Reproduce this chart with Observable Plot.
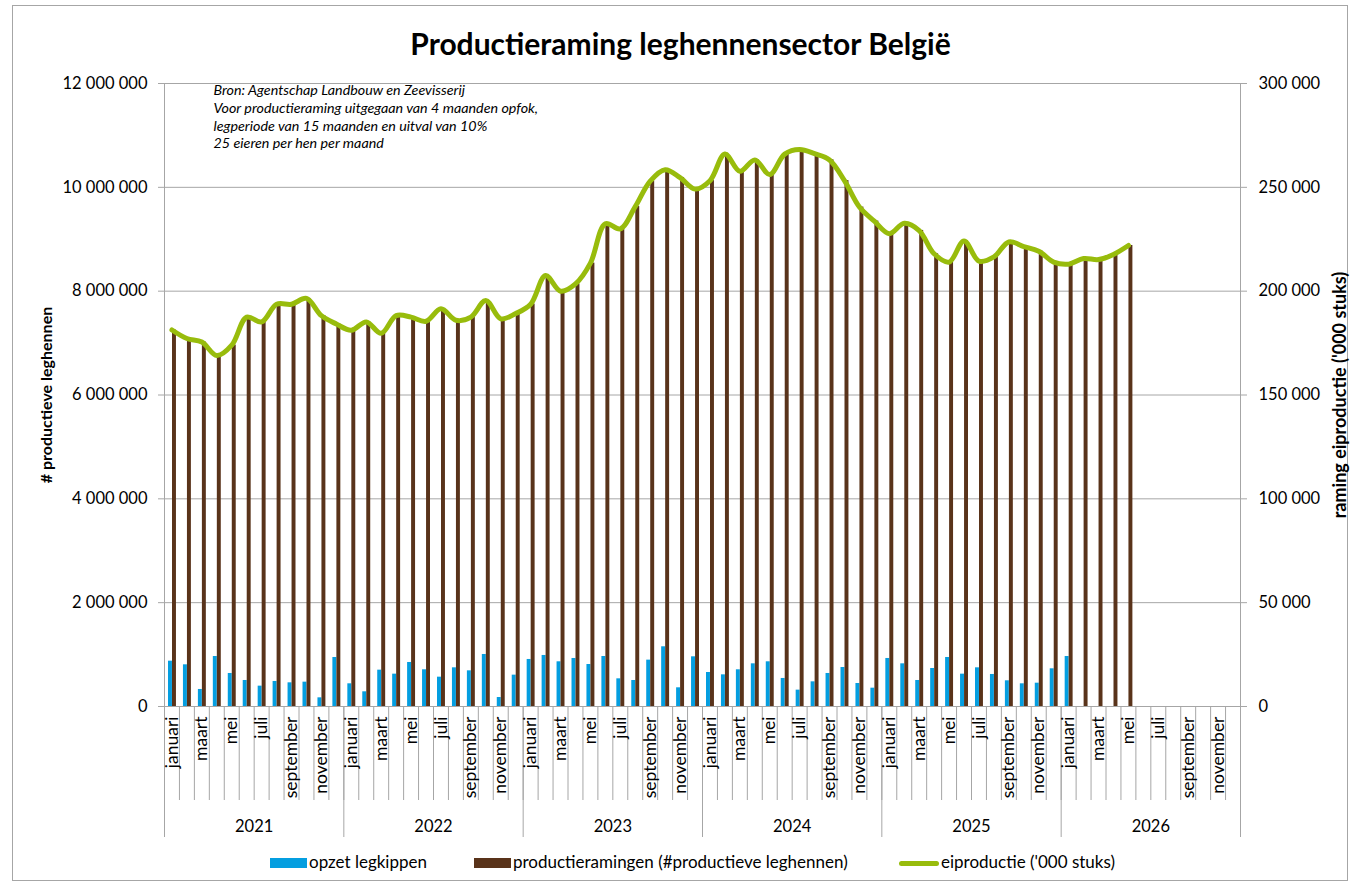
<!DOCTYPE html>
<html>
<head>
<meta charset="utf-8">
<script src="https://cdn.jsdelivr.net/npm/d3@7"></script>
<script src="https://cdn.jsdelivr.net/npm/@observablehq/plot@0.6"></script>
<style>
  body { margin: 0; background: #fff; font-family: Lato, "Open Sans", sans-serif; }
  #wrap { position: relative; width: 1357px; height: 887px; overflow: hidden; background: #fff; }
  #border { position: absolute; left: 12px; top: 5px; width: 1336px; height: 876px; border: 1px solid #a6a6a6; box-sizing: border-box; }
  #chart { position: absolute; left: 0; top: 0; }
  #title { position: absolute; left: 12px; width: 1337px; top: 28px; text-align: center; font-weight: bold; font-size: 30px; line-height: 1; color: #000; }
  .sw { position: absolute; }
  .lt { position: absolute; font-size: 17px; line-height: 1; color: #000; white-space: nowrap; }
</style>
</head>
<body>
<div id="wrap">
  <div id="border"></div>
  <div id="chart"></div>
  <div id="title">Productieraming leghennensector België</div>
  <div id="legend"></div>
</div>
<script>
const years = [2021, 2022, 2023, 2024, 2025, 2026];
const months = ["januari", "februari", "maart", "april", "mei", "juni", "juli", "augustus", "september", "oktober", "november", "december"];

// opzet legkippen (stuks)
const opzet = [
  873000, 803000, 328000, 963000, 636000, 501000, 392000, 482000, 456000, 469000, 167000, 944000,
  437000, 283000, 700000, 623000, 848000, 707000, 565000, 745000, 687000, 1002000, 173000, 604000,
  906000, 983000, 861000, 925000, 809000, 963000, 533000, 501000, 893000, 1150000, 360000, 957000,
  655000, 610000, 707000, 822000, 861000, 540000, 315000, 475000, 636000, 751000, 443000, 353000,
  925000, 822000, 501000, 732000, 944000, 623000, 745000, 617000, 495000, 437000, 449000, 726000,
  963000, null, null, null, null, null, null, null, null, null, null, null
];

// productieramingen (#productieve leghennen)
const productie = [
  7250000, 7090000, 7020000, 6760000, 6960000, 7500000, 7410000, 7750000, 7750000, 7860000, 7530000, 7370000,
  7250000, 7410000, 7190000, 7530000, 7500000, 7420000, 7660000, 7440000, 7500000, 7820000, 7470000, 7570000,
  7750000, 8300000, 8000000, 8140000, 8540000, 9300000, 9200000, 9630000, 10120000, 10340000, 10190000, 9970000,
  10130000, 10640000, 10310000, 10530000, 10250000, 10640000, 10730000, 10650000, 10530000, 10130000, 9620000, 9350000,
  9110000, 9310000, 9170000, 8720000, 8560000, 8970000, 8580000, 8660000, 8950000, 8860000, 8770000, 8560000,
  8520000, 8630000, 8610000, 8710000, 8880000, null, null, null, null, null, null, null
];

// eiproductie ('000 stuks)
const eiproductie = [
  181300, 177200, 175500, 169000, 174000, 187500, 185200, 193700, 193700, 196500, 188200, 184200,
  181200, 185200, 179700, 188200, 187500, 185500, 191500, 186000, 187500, 195500, 186700, 189200,
  193700, 207500, 200000, 203500, 213500, 232500, 230000, 240700, 253000, 258500, 254700, 249200,
  253200, 266000, 257700, 263200, 256200, 266000, 268200, 266200, 263200, 253200, 240500, 233700,
  227700, 232700, 229200, 218000, 214000, 224200, 214500, 216500, 223700, 221500, 219200, 214000,
  213000, 215700, 215200, 217700, 222000, null, null, null, null, null, null, null
];

const leftTicks = [0, 2000000, 4000000, 6000000, 8000000, 10000000, 12000000];
const rightTicks = [0, 50000, 100000, 150000, 200000, 250000, 300000];

const noteLines = [
  "Bron: Agentschap Landbouw en Zeevisserij",
  "Voor productieraming uitgegaan van 4 maanden opfok,",
  "legperiode van 15 maanden en uitval van 10%",
  "25 eieren per hen per maand"
];

const legendItems = [
  {label: "opzet legkippen", kind: "bar", color: "#049ee0"},
  {label: "productieramingen (#productieve leghennen)", kind: "bar", color: "#59331a"},
  {label: "eiproductie ('000 stuks)", kind: "line", color: "#98bc0c"}
];

const blue = "#049ee0", brown = "#59331a", green = "#98bc0c", gray = "#a6a6a6";
const ratio = 12000000 / 300000; // right axis -> left axis

const rows = [];
years.forEach((yr, yi) => months.forEach((m, mi) => {
  const i = yi * 12 + mi;
  rows.push({i, year: yr, month: m, opzet: opzet[i], productie: productie[i], ei: eiproductie[i]});
}));

const fmt = v => d3.format(",")(Math.round(v)).replace(/,/g, "\u00a0");

const chart = Plot.plot({
  width: 1357,
  height: 887,
  marginLeft: 164,
  marginRight: 117,
  marginTop: 83,
  marginBottom: 181,
  style: {fontFamily: "Lato, 'Open Sans', sans-serif", fontSize: "16.5px", color: "black", background: "transparent", overflow: "visible"},
  x: {type: "linear", domain: [0, 72]},
  y: {domain: [0, 12000000]},
  marks: [
    Plot.ruleY(leftTicks, {stroke: gray, strokeWidth: 1}),
    Plot.rectY(rows.filter(d => d.opzet != null), {x1: "i", x2: d => d.i + 1, y: "opzet", fill: blue, insetLeft: 4, insetRight: 7}),
    Plot.rectY(rows.filter(d => d.productie != null), {x1: "i", x2: d => d.i + 1, y: "productie", fill: brown, insetLeft: 8, insetRight: 3}),
    Plot.ruleX([0, 72], {y1: 0, y2: 12000000, stroke: gray}),
    Plot.line(rows.filter(d => d.ei != null), {x: d => d.i + 0.5, y: d => d.ei * ratio, stroke: green, strokeWidth: 5, curve: "catmull-rom", strokeLinejoin: "round", strokeLinecap: "round"}),
    Plot.axisY({anchor: "left", ticks: leftTicks, tickFormat: fmt, tickSize: 6, tickPadding: 11, stroke: gray, fill: "black", label: null}),
    Plot.axisY({anchor: "right", ticks: rightTicks.map(v => v * ratio), tickFormat: d => fmt(d / ratio), tickSize: 6, tickPadding: 12, stroke: gray, fill: "black", label: null}),
    Plot.axisX({ticks: d3.range(0, 73), tickSize: 94, tickFormat: () => "", stroke: gray, label: null}),
    Plot.axisX({ticks: d3.range(0, 73, 12), tickSize: 131, tickFormat: () => "", stroke: gray, label: null}),
    Plot.text(rows.filter(d => d.i % 2 === 0), {x: d => d.i + 0.5, frameAnchor: "bottom", dy: 10, rotate: -90, textAnchor: "end", lineAnchor: "middle", fontSize: 17.5, text: "month", fill: "black"}),
    Plot.text(years, {x: (d, k) => k * 12 + 6, frameAnchor: "bottom", dy: 120, lineAnchor: "middle", text: d => String(d), fill: "black"}),
    Plot.text([noteLines.join("\n")], {frameAnchor: "top-left", dx: 49, dy: -1, lineAnchor: "top", textAnchor: "start", fontStyle: "italic", fontSize: 14.3, lineHeight: 1.24, text: d => d, fill: "black"}),
    Plot.text(["# productieve leghennen"], {frameAnchor: "left", dx: -118, rotate: -90, textAnchor: "middle", lineAnchor: "middle", fontWeight: "bold", fontSize: 16, text: d => d, fill: "black"}),
    Plot.text(["raming eiproductie ('000 stuks)"], {frameAnchor: "right", dx: 100, rotate: -90, textAnchor: "middle", lineAnchor: "middle", fontWeight: "bold", fontSize: 18, text: d => d, fill: "black"})
  ]
});
document.getElementById("chart").appendChild(chart);

// legend
const legendPos = [
  {sw: 270, tx: 309},
  {sw: 474, tx: 513},
  {sw: 899, tx: 941}
];
const leg = document.getElementById("legend");
legendItems.forEach((it, k) => {
  const p = legendPos[k];
  const s = document.createElement("div");
  s.className = "sw";
  s.style.background = it.color;
  if (it.kind === "bar") {
    s.style.left = p.sw + "px"; s.style.top = "858px"; s.style.width = "37px"; s.style.height = "10px";
  } else {
    s.style.left = p.sw + "px"; s.style.top = "861px"; s.style.width = "40px"; s.style.height = "5px"; s.style.borderRadius = "3px";
  }
  leg.appendChild(s);
  const t = document.createElement("div");
  t.className = "lt";
  t.style.left = p.tx + "px";
  t.style.top = "853px";
  t.textContent = it.label;
  leg.appendChild(t);
});
</script>
</body>
</html>
